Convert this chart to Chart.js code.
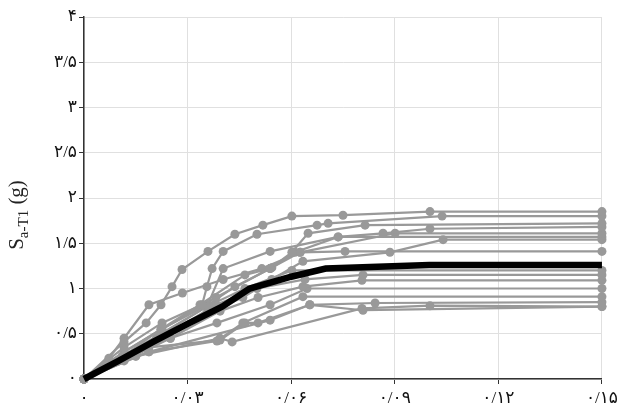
<!DOCTYPE html>
<html>
<head>
<meta charset="utf-8">
<script src="https://cdn.jsdelivr.net/npm/chart.js@4"></script>
<style>
  html, body { margin: 0; padding: 0; background: #fff; }
  #wrap { width: 622px; height: 406px; }
</style>
</head>
<body>
<div id="wrap"><canvas id="myChart"></canvas></div>
<script>
// axis ticks
const xTicks = [0, 0.03, 0.06, 0.09, 0.12, 0.15];
const xTickLabels = ['۰', '۰/۰۳', '۰/۰۶', '۰/۰۹', '۰/۱۲', '۰/۱۵'];
const yTicks = [0, 0.5, 1, 1.5, 2, 2.5, 3, 3.5, 4];
const yTickLabels = ['۰', '۰/۵', '۱', '۱/۵', '۲', '۲/۵', '۳', '۳/۵', '۴'];

// median curve (black)
const medianX = [0, 0.01, 0.02, 0.03, 0.04, 0.048, 0.06, 0.07, 0.1, 0.15];
const medianY = [0, 0.2, 0.41, 0.61, 0.8, 1.0, 1.13, 1.22, 1.26, 1.26];

// individual records (gray), [drift, Sa]
const rec1 = [[0,0],[0.0116,0.41],[0.018,0.62],[0.0223,0.82],[0.0255,1.02],[0.0284,1.21],[0.0359,1.41],[0.0437,1.6],[0.0518,1.7],[0.0602,1.8],[0.075,1.81],[0.1002,1.85],[0.15,1.85]];
const rec2 = [[0,0],[0.0116,0.35],[0.0226,0.62],[0.0342,0.82],[0.0356,1.02],[0.0371,1.22],[0.0403,1.41],[0.0501,1.6],[0.0675,1.7],[0.0707,1.72],[0.1037,1.8],[0.15,1.8]];
const rec3 = [[0,0],[0.012,0.27],[0.0223,0.55],[0.0336,0.82],[0.0466,1.15],[0.0539,1.22],[0.0602,1.4],[0.0649,1.61],[0.0814,1.7],[0.15,1.72]];
const rec4 = [[0,0],[0.011,0.25],[0.0223,0.5],[0.0356,0.8],[0.0403,1.22],[0.0539,1.41],[0.0736,1.57],[0.0866,1.61],[0.1002,1.66],[0.15,1.68]];
const rec5 = [[0,0],[0.0116,0.3],[0.0226,0.55],[0.0382,0.9],[0.0539,1.22],[0.0626,1.4],[0.0901,1.61],[0.15,1.61]];
const rec6 = [[0,0],[0.0116,0.3],[0.0223,0.55],[0.0359,0.82],[0.0437,1.02],[0.0544,1.23],[0.0611,1.4],[0.0736,1.57],[0.15,1.57]];
const rec7 = [[0,0],[0.01,0.2],[0.021,0.45],[0.0356,0.73],[0.046,0.9],[0.0544,1.1],[0.0634,1.3],[0.0886,1.4],[0.104,1.54],[0.15,1.54]];
const rec8 = [[0,0],[0.0072,0.23],[0.0116,0.45],[0.0188,0.82],[0.0285,0.95],[0.0403,1.1],[0.0515,1.22],[0.0626,1.4],[0.0756,1.41],[0.15,1.41]];
const rec9 = [[0,0],[0.012,0.25],[0.0226,0.5],[0.0356,0.8],[0.0466,1.0],[0.0602,1.2],[0.15,1.2]];
const rec10 = [[0,0],[0.011,0.23],[0.0223,0.45],[0.0382,0.82],[0.0501,1.0],[0.064,1.1],[0.0808,1.15],[0.15,1.15]];
const rec11 = [[0,0],[0.0116,0.23],[0.025,0.45],[0.0394,0.75],[0.0504,0.9],[0.0634,1.02],[0.0805,1.09],[0.15,1.09]];
const rec12 = [[0,0],[0.0116,0.2],[0.025,0.45],[0.0385,0.62],[0.0539,0.82],[0.0646,1.0],[0.15,1.0]];
const rec13 = [[0,0],[0.0188,0.3],[0.0385,0.42],[0.046,0.62],[0.0634,0.91],[0.15,0.91]];
const rec14 = [[0,0],[0.0188,0.35],[0.0394,0.43],[0.0466,0.62],[0.0504,0.62],[0.0654,0.82],[0.0843,0.84],[0.15,0.85]];
const rec15 = [[0,0],[0.015,0.25],[0.0394,0.45],[0.0429,0.41],[0.0805,0.78],[0.1002,0.81],[0.15,0.8]];
const rec16 = [[0,0],[0.0188,0.3],[0.0539,0.65],[0.0654,0.82],[0.0808,0.76],[0.15,0.8]];

const records = [rec1, rec2, rec3, rec4, rec5, rec6, rec7, rec8, rec9, rec10, rec11, rec12, rec13, rec14, rec15, rec16];

const gray = '#999999';
const fontFam = "'Liberation Serif', 'DejaVu Serif', 'DejaVu Sans', serif";

let datasets = [];
// median first so it sits on top
datasets.push({
  data: medianX.map((x, i) => ({x: x, y: medianY[i]})),
  showLine: true,
  borderColor: '#000',
  borderWidth: 6.5,
  pointRadius: 0,
  clip: false
});
records.forEach(r => {
  datasets.push({
    data: r.map(p => ({x: p[0], y: p[1]})),
    showLine: true,
    borderColor: gray,
    backgroundColor: gray,
    borderWidth: 2.2,
    pointRadius: 4.5,
    pointBorderWidth: 0,
    clip: false
  });
});

// y axis title with subscript
const yTitle = {
  id: 'yTitle',
  afterDraw(chart) {
    const c = chart.ctx;
    c.save();
    c.translate(23, 215);
    c.rotate(-Math.PI / 2);
    c.fillStyle = '#222';
    c.textBaseline = 'alphabetic';
    const big = '21px ' + fontFam, small = '15px ' + fontFam;
    c.font = big; const wS = c.measureText('S').width, wG = c.measureText(' (g)').width;
    c.font = small; const wSub = c.measureText('a-T1').width;
    let x = -(wS + wSub + wG) / 2;
    c.font = big; c.fillText('S', x, 0); x += wS;
    c.font = small; c.fillText('a-T1', x, 5); x += wSub;
    c.font = big; c.fillText(' (g)', x, 0);
    c.restore();
  }
};

let ctx = document.getElementById('myChart').getContext('2d');

var chart = new Chart(ctx, {
  type: 'scatter',
  data: { datasets: datasets },
  options: {
    responsive: true,
    maintainAspectRatio: false,
    animation: false,
    layout: { padding: { top: 17, right: 20, left: 0, bottom: 0 } },
    plugins: { legend: { display: false }, tooltip: { enabled: false } },
    scales: {
      x: {
        type: 'linear',
        min: 0,
        max: 0.15,
        afterBuildTicks: s => { s.ticks = xTicks.map(v => ({value: v})); },
        afterFit: s => { s.height = 27; },
        ticks: {
          callback: (v, i) => xTickLabels[i],
          color: '#111',
          font: { size: 17, family: fontFam },
          padding: 4,
          maxRotation: 0
        },
        grid: { color: '#e0e0e0', lineWidth: 1, tickColor: '#333', tickLength: 5 },
        border: { color: '#333', width: 1.5 }
      },
      y: {
        type: 'linear',
        min: 0,
        max: 4,
        afterBuildTicks: s => { s.ticks = yTicks.map(v => ({value: v})); },
        afterFit: s => { s.width = 84; },
        ticks: {
          callback: (v, i) => yTickLabels[i],
          color: '#111',
          font: { size: 17, family: fontFam },
          padding: 2
        },
        grid: { color: '#e0e0e0', lineWidth: 1, tickColor: '#333', tickLength: 5 },
        border: { color: '#333', width: 1.5 }
      }
    }
  },
  plugins: [yTitle]
});
</script>
</body>
</html>
